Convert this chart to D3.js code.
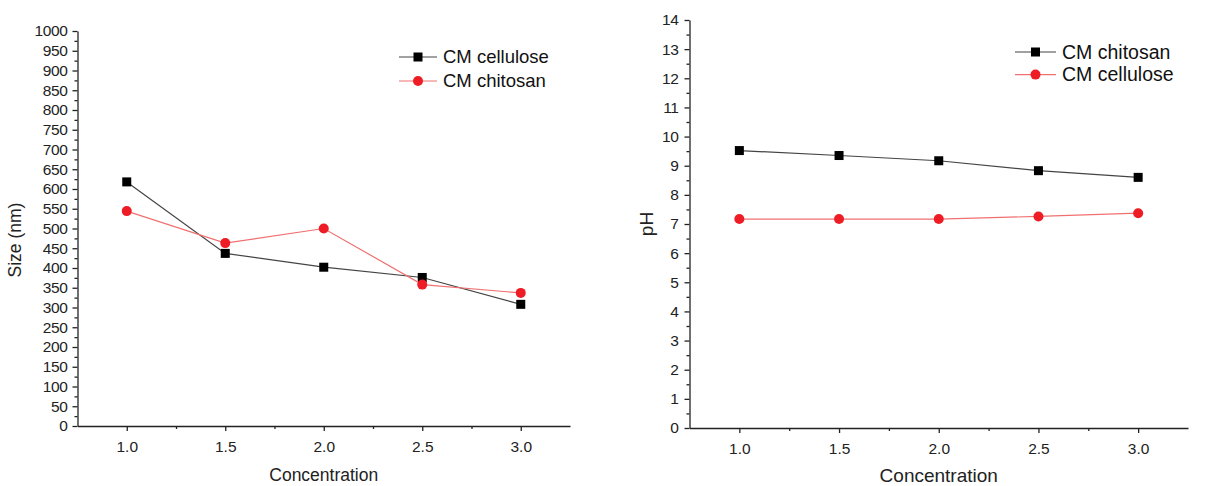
<!DOCTYPE html>
<html><head><meta charset="utf-8">
<script src="https://cdn.jsdelivr.net/npm/d3@7"></script>
<style>
body{margin:0;background:#fff;}
svg{display:block;font-family:"Liberation Sans",Arial,sans-serif;}
.axis path,.axis line{stroke:#222;stroke-width:1.3;}
.axis text{fill:#222;}
</style></head>
<body>
<svg id="c" width="1209" height="486"></svg>
<script>
const concentrations = [1.0, 1.5, 2.0, 2.5, 3.0];
const xTicks = [1.0, 1.5, 2.0, 2.5, 3.0];
const xMinorTicks = [1.25, 1.75, 2.25, 2.75];

// Left chart: particle size
const sizeCellulose = [618, 437, 402, 376, 308];
const sizeChitosan = [544, 463, 500, 358, 337];
const sizeTicks = d3.range(0, 1001, 50);
const sizeMinor = d3.range(25, 1000, 50);

// Right chart: pH
const phChitosan = [9.52, 9.35, 9.17, 8.83, 8.6];
const phCellulose = [7.17, 7.17, 7.17, 7.26, 7.37];
const phTicks = d3.range(0, 15, 1);
const phMinor = d3.range(0.5, 14, 1);

const svg = d3.select("#c");

function panel(o){
  const g = svg.append("g");
  const x = d3.scaleLinear().domain([0.75,3.25]).range(o.xr);
  const y = d3.scaleLinear().domain(o.yd).range(o.yr);
  // minor ticks
  g.append("g").attr("class","axis").attr("transform",`translate(0,${o.yr[0]})`)
    .call(d3.axisBottom(x).tickValues(xMinorTicks).tickSize(3).tickFormat(""))
    .call(s=>s.select(".domain").remove());
  g.append("g").attr("class","axis").attr("transform",`translate(${o.xr[0]},0)`)
    .call(d3.axisLeft(y).tickValues(o.yMinor).tickSize(3).tickFormat(""))
    .call(s=>s.select(".domain").remove());
  // major
  g.append("g").attr("class","axis").attr("transform",`translate(0,${o.yr[0]})`)
    .call(d3.axisBottom(x).tickValues(xTicks).tickSize(5).tickPadding(10).tickSizeOuter(0).tickFormat(d3.format(".1f")))
    .call(s=>s.selectAll("text").style("font-size",o.tickFont+"px"));
  g.append("g").attr("class","axis").attr("transform",`translate(${o.xr[0]},0)`)
    .call(d3.axisLeft(y).tickValues(o.yTicks).tickSize(5).tickPadding(o.yPad).tickSizeOuter(0).tickFormat(d3.format("d")))
    .call(s=>s.selectAll("text").style("font-size",o.tickFont+"px").attr("letter-spacing","-0.4"));
  // axis titles
  g.append("text").attr("x",x(2.0)).attr("y",o.xTitleY).attr("text-anchor","middle")
    .style("font-size",o.titleFont+"px").attr("fill","#222").text("Concentration");
  g.append("text").attr("transform",`translate(${o.yTitleX},${o.yTitleY}) rotate(-90)`)
    .attr("text-anchor","middle").attr("dy","0.35em").style("font-size",o.titleFont+"px").attr("fill","#222").text(o.yLabel);
  const line = d3.line().x((d,i)=>x(concentrations[i])).y(d=>y(d));
  o.series.forEach(s=>{
    g.append("path").datum(s.values).attr("d",line).attr("fill","none")
      .attr("stroke",s.lineColor).attr("stroke-width",1.2);
    if(s.marker==="square"){
      g.selectAll(null).data(s.values).enter().append("rect")
        .attr("x",(d,i)=>x(concentrations[i])-4.5).attr("y",d=>y(d)-4.5)
        .attr("width",9).attr("height",9).attr("fill",s.color);
    } else {
      g.selectAll(null).data(s.values).enter().append("circle")
        .attr("cx",(d,i)=>x(concentrations[i])).attr("cy",d=>y(d)).attr("r",5).attr("fill",s.color);
    }
  });
  // legend
  o.series.forEach((s,i)=>{
    const ly = o.legY + i*o.legDy;
    g.append("line").attr("x1",o.legX).attr("x2",o.legX+o.legW).attr("y1",ly).attr("y2",ly)
      .attr("stroke",s.lineColor).attr("stroke-width",1.2);
    const cx = o.legX+o.legW/2;
    if(s.marker==="square") g.append("rect").attr("x",cx-4.5).attr("y",ly-4.5).attr("width",9).attr("height",9).attr("fill",s.color);
    else g.append("circle").attr("cx",cx).attr("cy",ly).attr("r",5).attr("fill",s.color);
    g.append("text").attr("x",o.legX+o.legW+6).attr("y",ly).attr("dy","0.35em")
      .style("font-size",o.legFont+"px").attr("fill","#111").text(s.name);
  });
}

panel({xr:[77.5,570], yd:[0,1000], yr:[426,31], yTicks:sizeTicks, yMinor:sizeMinor, yPad:5,
  tickFont:15.5, titleFont:17.5, xTitleY:481, yTitleX:15, yTitleY:240, yLabel:"Size (nm)",
  legX:399, legW:38, legY:57, legDy:24, legFont:18.5,
  series:[
    {name:"CM cellulose", values:sizeCellulose, marker:"square", color:"#000", lineColor:"#444"},
    {name:"CM chitosan", values:sizeChitosan, marker:"circle", color:"#ee1c24", lineColor:"#f07070"}
  ]});

panel({xr:[689.5,1188], yd:[0,14], yr:[428,20], yTicks:phTicks, yMinor:phMinor, yPad:6,
  tickFont:15.5, titleFont:19, xTitleY:482, yTitleX:646, yTitleY:224, yLabel:"pH",
  legX:1015, legW:41, legY:52, legDy:22.6, legFont:19.5,
  series:[
    {name:"CM chitosan", values:phChitosan, marker:"square", color:"#000", lineColor:"#444"},
    {name:"CM cellulose", values:phCellulose, marker:"circle", color:"#ee1c24", lineColor:"#f07070"}
  ]});
</script>
</body></html>
